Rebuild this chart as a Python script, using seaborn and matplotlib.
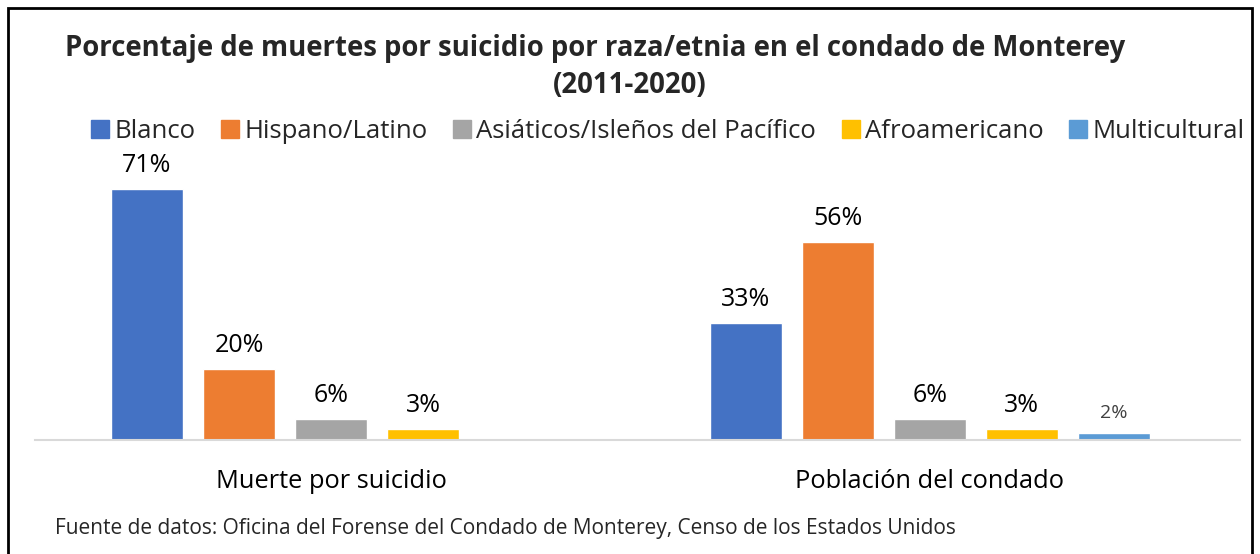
import numpy as np
import pandas as pd
import matplotlib
matplotlib.use("Agg")
import matplotlib.pyplot as plt
import matplotlib.patches as mpatches
import seaborn as sns

categories = ["Muerte por suicidio", "Población del condado"]
groups = ["Blanco", "Hispano/Latino", "Asiáticos/Isleños del Pacífico",
          "Afroamericano", "Multicultural"]
suicidio = [71, 20, 6, 3, np.nan]
poblacion = [33, 56, 6, 3, 2]
colors = ["#4472C4", "#ED7D31", "#A5A5A5", "#FFC000", "#5B9BD5"]

rows = []
for g, a, b in zip(groups, suicidio, poblacion):
    rows.append({"cat": categories[0], "grupo": g, "pct": a})
    rows.append({"cat": categories[1], "grupo": g, "pct": b})
df = pd.DataFrame(rows)

sns.set_theme(style="white")
plt.rcParams["font.family"] = ["Open Sans", "DejaVu Sans"]

fig = plt.figure(figsize=(12.6, 5.54), dpi=100)
ax = fig.add_axes([0.025, 0.206, 0.959, 0.523])

sns.barplot(data=df, x="cat", y="pct", hue="grupo", order=categories,
            hue_order=groups, palette=colors, width=0.768, gap=0.217,
            saturation=1, ax=ax, legend=False, errorbar=None)

ax.set_ylim(0, 82)
ax.set_xlim(-0.5, 1.5175)
ax.set_yticks([])
ax.set_xlabel("")
ax.set_ylabel("")
for s in ["top", "right", "left"]:
    ax.spines[s].set_visible(False)
ax.spines["bottom"].set_color("#D9D9D9")
ax.spines["bottom"].set_linewidth(1.5)
ax.spines["bottom"].set_bounds(-0.494, 1.5175)
ax.tick_params(axis="x", length=0, labelsize=18.3, pad=21, colors="black")

# etiquetas de valor
for i, cont in enumerate(ax.containers):
    for bar in cont:
        if bar is None or np.isnan(bar.get_height()):
            continue
        x = bar.get_x() + bar.get_width() / 2
        h = bar.get_height()
        if i == 4:
            # el 2% va mas chico y en gris
            ax.annotate(f"{h:.0f}%", (x, h), xytext=(0, 8), textcoords="offset points",
                        ha="center", va="bottom", fontsize=14, color="#404040")
        else:
            ax.annotate(f"{h:.0f}%", (x, h), xytext=(0, 8), textcoords="offset points",
                        ha="center", va="bottom", fontsize=18, color="black")

handles = [mpatches.Patch(color=c, label=g) for g, c in zip(groups, colors)]
fig.legend(handles=handles, loc="center", bbox_to_anchor=(0.53, 0.762), ncol=5,
           frameon=False, fontsize=18.5, handlelength=0.7, handleheight=0.7,
           handletextpad=0.2, columnspacing=1.0, borderaxespad=0)

fig.text(0.472, 0.912, "Porcentaje de muertes por suicidio por raza/etnia en el condado de Monterey",
         ha="center", va="center", fontsize=19.8, fontweight="bold")
fig.text(0.5, 0.846, "(2011-2020)", ha="center", va="center", fontsize=19.8, fontweight="bold")
fig.text(0.044, 0.046, "Fuente de datos: Oficina del Forense del Condado de Monterey, Censo de los Estados Unidos",
         ha="left", va="center", fontsize=15)

fig.patches.append(mpatches.Rectangle((8 / 1260, -0.05), 1244 / 1260, 1.05 - 8 / 554,
                                      transform=fig.transFigure, fill=False,
                                      edgecolor="black", linewidth=2))

fig.savefig("out.png", dpi=100)
